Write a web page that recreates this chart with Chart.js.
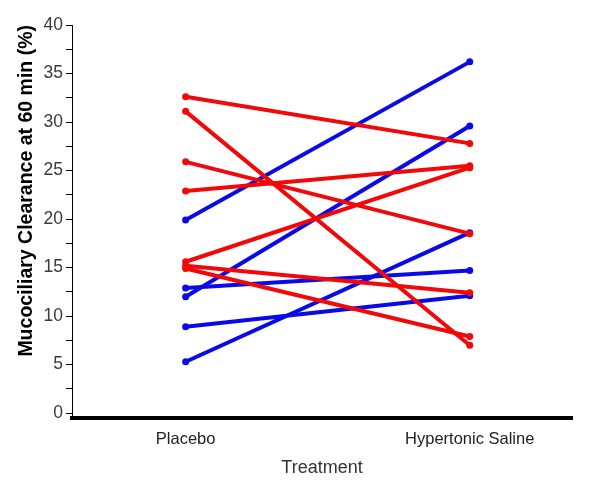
<!DOCTYPE html>
<html>
<head>
<meta charset="utf-8">
<script src="https://cdn.jsdelivr.net/npm/chart.js@4.4.0/dist/chart.umd.min.js"></script>
<style>
  html, body { margin: 0; padding: 0; background: #fff; }
  #wrap { width: 600px; height: 486px; }
</style>
</head>
<body>
<div id="wrap"><canvas id="chart" width="600" height="486"></canvas></div>
<script>
const groups = ['Placebo', 'Hypertonic Saline'];
// red subjects: placebo -> hypertonic saline
const redPlacebo = [32.6, 31.1, 25.9, 22.9, 15.6, 15.2, 14.9];
const redSaline  = [27.8, 7.0, 18.5, 25.5, 25.3, 12.4, 7.9];
// blue subjects
const bluePlacebo = [19.9, 12.0, 12.9, 8.9, 5.3];
const blueSaline  = [36.2, 29.6, 14.7, 12.1, 18.6];

const RED = 'rgb(242,8,8)';
const BLUE = 'rgb(10,10,232)';
const FONT = "'Liberation Sans', Arial, sans-serif";

function makeSets(pl, hs, color) {
  return pl.map((v, i) => ({
    data: [{x: 1, y: v}, {x: 2, y: hs[i]}],
    borderColor: color,
    backgroundColor: color,
    pointBackgroundColor: color,
    pointBorderColor: color,
    borderWidth: 4,
    pointRadius: 3.5,
    pointBorderWidth: 0,
    showLine: true,
    tension: 0
  }));
}

const datasets = makeSets(redPlacebo, redSaline, RED).concat(makeSets(bluePlacebo, blueSaline, BLUE));

new Chart(document.getElementById('chart').getContext('2d'), {
  type: 'scatter',
  data: { datasets },
  options: {
    responsive: false,
    animation: false,
    layout: { padding: { top: 25, right: 28, left: 0, bottom: 0 } },
    plugins: { legend: { display: false }, tooltip: { enabled: false } },
    scales: {
      x: {
        type: 'linear',
        min: 0.6,
        max: 2.36,
        afterBuildTicks: s => { s.ticks = [{value: 1}, {value: 2}]; },
        afterFit: s => { s.height = 68; },
        grid: { display: false, drawTicks: false },
        border: { display: true, color: '#000', width: 4 },
        ticks: {
          padding: 12,
          color: '#222',
          font: { family: FONT, size: 16.5 },
          callback: v => groups[Math.round(v) - 1] || ''
        },
        title: {
          display: true,
          text: 'Treatment',
          color: '#333',
          font: { family: FONT, size: 18 },
          padding: { top: 0, bottom: 7 }
        }
      },
      y: {
        min: -0.5,
        max: 40,
        afterFit: s => { s.width = 72; },
        grid: { display: true, drawOnChartArea: false, drawTicks: true, tickLength: 6, color: '#000' },
        border: { display: true, color: '#000', width: 1 },
        ticks: {
          stepSize: 2.5,
          includeBounds: false,
          autoSkip: false,
          padding: 3,
          color: '#3a3a3a',
          font: { family: FONT, size: 17.5 },
          callback: v => (v % 5 === 0 ? String(v) : '')
        },
        title: {
          display: true,
          text: 'Mucociliary Clearance at 60 min (%)',
          align: 'end',
          color: '#000',
          font: { family: FONT, size: 19.5, weight: 'bold' },
          padding: { top: 15, bottom: 0 }
        }
      }
    }
  }
});
</script>
</body>
</html>
